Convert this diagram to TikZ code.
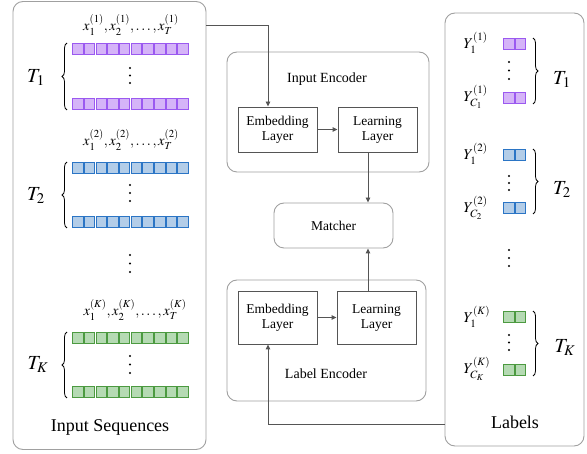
\documentclass[tikz,border=0pt]{standalone}
\usepackage{mathptmx}
\usepackage[no-math]{fontspec}
\setmainfont{Liberation Serif}
\usetikzlibrary{arrows.meta,decorations.pathreplacing,calc}
\definecolor{pfill}{HTML}{D5B4F8}
\definecolor{pdraw}{HTML}{9B59F0}
\definecolor{bfill}{HTML}{B3CDE8}
\definecolor{bdraw}{HTML}{2B75C5}
\definecolor{gfill}{HTML}{B5DAB3}
\definecolor{gdraw}{HTML}{4C9A40}
\definecolor{panelgray}{HTML}{A0A0A0}
\definecolor{boxgray}{HTML}{555555}
\tikzset{
  panel/.style={draw=panelgray,line width=0.9pt,rounded corners=10pt,inner sep=0pt},
  layerbox/.style={draw=boxgray,line width=0.9pt,minimum width=79pt,align=center,font=\fontsize{13.5}{15}\selectfont,inner sep=0pt},
  conn/.style={draw=boxgray,line width=0.9pt,-{Triangle[length=5pt,width=4.5pt]}},
  lbrace/.style={decorate,decoration={brace,amplitude=5pt},line width=0.8pt},
  sqp/.style={fill=pfill,draw=pdraw,line width=1pt},
  sqb/.style={fill=bfill,draw=bdraw,line width=1pt},
  sqg/.style={fill=gfill,draw=gdraw,line width=1pt},
  bigT/.style={font=\fontsize{20}{22}\selectfont},
  xlab/.style={font=\fontsize{14.5}{16}\selectfont},
  ylab/.style={font=\fontsize{15}{17}\selectfont,anchor=west},
  title/.style={font=\fontsize{18}{20}\selectfont}
}
\begin{document}
\begin{tikzpicture}[x=1pt,y=-1pt]
\useasboundingbox (0,0) rectangle (587,454);
% panels
\node[panel,minimum width=193pt,minimum height=448pt] (inseq) at (109.5,225.5) {};
\node[panel,minimum width=139pt,minimum height=433pt] (labels) at (514.5,229.5) {};
\node[panel,minimum width=202pt,minimum height=120pt] (ienc) at (328,112) {};
\node[panel,minimum width=199pt,minimum height=121pt] (lenc) at (326.5,340.5) {};
\node[panel,minimum width=119pt,minimum height=45pt,font=\fontsize{13.5}{15}\selectfont] (matcher) at (333.5,225.5) {Matcher};
% titles
\node[font=\fontsize{14}{15}\selectfont] (ienct) at (327,79) {Input Encoder};
\node[font=\fontsize{14}{15}\selectfont] (lenct) at (326,374) {Label Encoder};
\node[title] (inseqt) at (110,427) {Input Sequences};
\node[title] (labelst) at (515,422) {Labels};
% layer boxes
\node[layerbox,minimum height=45pt] (emb1) at (277.5,129.5) {Embedding\\Layer};
\node[layerbox,minimum height=45pt] (learn1) at (377.5,129.5) {Learning\\Layer};
\node[layerbox,minimum height=53pt] (emb2) at (277.5,317.5) {Embedding\\Layer};
\node[layerbox,minimum height=53pt] (learn2) at (376.5,317.5) {Learning\\Layer};
% connectors
\coordinate (s1) at (268,25);
\coordinate (s2) at (268,424);
\coordinate (m1) at (368,0);
\draw[conn] (inseq.east |- s1) -- (s1) -- (s1 |- emb1.north);
\draw[conn] (emb1.east) -- (learn1.west);
\draw[conn] (learn1.south -| m1) -- (matcher.north -| m1);
\draw[conn] (emb2.east) -- (learn2.west);
\draw[conn] (learn2.north -| m1) -- (matcher.south -| m1);
\draw[conn] (labels.west |- s2) -- (s2) -- (s2 |- emb2.south);
% input sequence squares
\foreach \i in {0,...,9} {
  \draw[sqp] (72.6+\i*11.7,43.5) rectangle ++(10.5,11);
  \draw[sqp] (72.6+\i*11.7,98.5) rectangle ++(10.5,11);
  \draw[sqb] (72.6+\i*11.7,162.5) rectangle ++(10.5,11);
  \draw[sqb] (72.6+\i*11.7,216.5) rectangle ++(10.5,11);
  \draw[sqg] (72.6+\i*11.7,332.5) rectangle ++(10.5,11);
  \draw[sqg] (72.6+\i*11.7,386.5) rectangle ++(10.5,11);
}
% label squares
\foreach \yy/\st in {38/sqp,92/sqp,149/sqb,202/sqb,311/sqg,364/sqg} {
  \draw[\st] (503.5,\yy+0.5) rectangle ++(10.5,11);
  \draw[\st] (515,\yy+0.5) rectangle ++(10.5,11);
}
% dots
\foreach \xx/\ya/\yb/\yc in {130/68/75.5/83, 130/185/193/201, 130/255/263.5/272, 130/356/364.5/373,
  509/62/70.5/79, 509/176/183/190, 509/250/258/266, 509/335/342.5/350} {
  \fill (\xx,\ya) circle (1.2pt);
  \fill (\xx,\yb) circle (1.2pt);
  \fill (\xx,\yc) circle (1.2pt);
}
% x labels
\node[xlab] (x1) at (131,25) {$x_1^{(1)},x_2^{(1)},\ldots,x_T^{(1)}$};
\node[xlab] (x2) at (131,140) {$x_1^{(2)},x_2^{(2)},\ldots,x_T^{(2)}$};
\node[xlab] (xk) at (135,310) {$x_1^{(K)},x_2^{(K)},\ldots,x_T^{(K)}$};
% left braces
\draw[lbrace] (67,110) -- (67,43);
\draw[lbrace] (67,228) -- (67,162);
\draw[lbrace] (67,398) -- (67,332);
\node[bigT] (t1) at (36,78) {$T_1$};
\node[bigT] (t2) at (36,196) {$T_2$};
\node[bigT] (tk) at (38,365) {$T_K$};
% Y labels
\node[ylab] (y11) at (460,43) {$Y_1^{(1)}$};
\node[ylab] (y1c) at (460,97) {$Y_{C_1}^{(1)}$};
\node[ylab] (y21) at (460,154) {$Y_1^{(2)}$};
\node[ylab] (y2c) at (460,208) {$Y_{C_2}^{(2)}$};
\node[ylab] (yk1) at (460,317) {$Y_1^{(K)}$};
\node[ylab] (ykc) at (460,369) {$Y_{C_K}^{(K)}$};
% right braces
\draw[lbrace] (533,38) -- (533,104);
\draw[lbrace] (533,149) -- (533,214);
\draw[lbrace] (533,311) -- (533,376);
\node[bigT] (rt1) at (562,80) {$T_1$};
\node[bigT] (rt2) at (562,190) {$T_2$};
\node[bigT] (rtk) at (565,348) {$T_K$};
\end{tikzpicture}
\end{document}
